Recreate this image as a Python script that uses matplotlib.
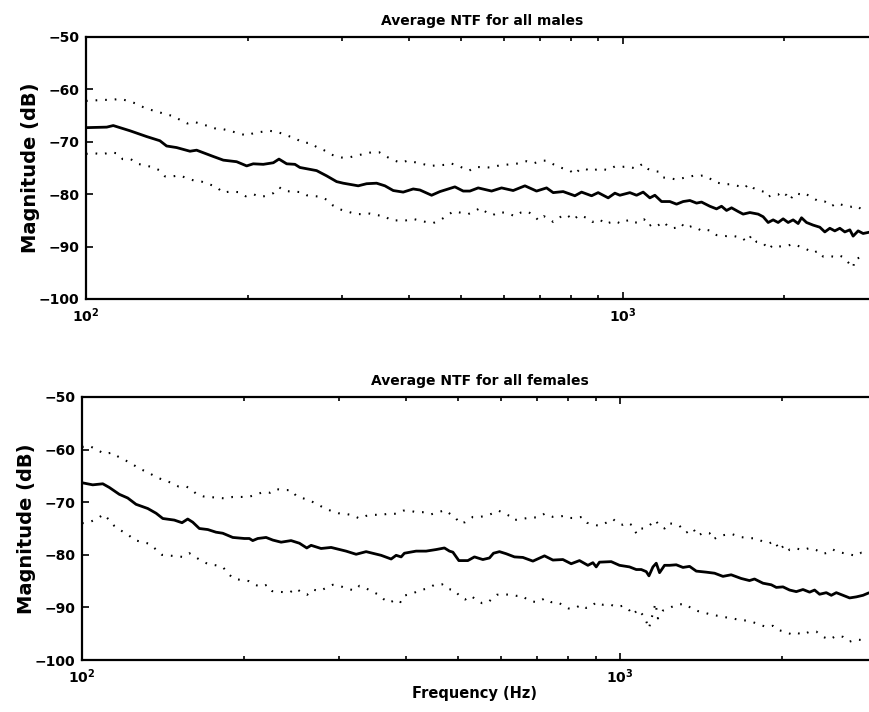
import matplotlib
matplotlib.use("Agg")
import matplotlib.pyplot as plt

# ---- males (top panel) ----
male_mean_f = [100, 109.3, 112.4, 120.8, 129.7, 137.3, 141.3, 147.5, 156.2, 160.7,
               172.6, 180.2, 190.8, 199.2, 204.9, 213.9, 223.3, 228.8, 236.5, 245.0,
               250.3, 268.9, 280.7, 293.0, 301.4, 321.4, 333.2, 347.8, 360.4, 373.5,
               389.8, 406.9, 418.8, 440.3, 456.3, 469.6, 486.6, 504.2, 518.9, 537.7,
               569.5, 594.4, 624.7, 657.0, 690.6, 721.0, 741.7, 774.1, 814.0, 837.7,
               874.4, 899.5, 939.0, 966.4, 987.3, 1030.5, 1060.6, 1091.0, 1122.8, 1147.1,
               1180.5, 1223.3, 1259.0, 1295.2, 1332.9, 1371.8, 1401.3, 1452.2, 1494.4, 1526.9,
               1560.0, 1593.9, 1639.6, 1675.1, 1724.1, 1786.6, 1825.2, 1864.9, 1905.2, 1946.4,
               1988.7, 2031.7, 2075.7, 2120.8, 2151.8, 2198.5, 2261.6, 2327.5, 2378.0, 2429.5,
               2482.1, 2536.0, 2590.9, 2647.2, 2684.8, 2743.1, 2802.5, 2863.1]
male_mean_db = [-67.3, -67.2, -66.9, -67.9, -69.0, -69.8, -70.8, -71.1, -71.8, -71.6,
                -72.8, -73.5, -73.8, -74.6, -74.2, -74.3, -74.0, -73.3, -74.2, -74.3,
                -74.9, -75.5, -76.5, -77.6, -77.9, -78.4, -78.0, -77.9, -78.4, -79.3,
                -79.6, -79.0, -79.2, -80.2, -79.5, -79.1, -78.6, -79.4, -79.4, -78.8,
                -79.4, -78.8, -79.3, -78.4, -79.4, -78.8, -79.7, -79.5, -80.3, -79.6,
                -80.3, -79.7, -80.7, -79.8, -80.2, -79.7, -80.2, -79.6, -80.7, -80.2,
                -81.4, -81.4, -81.9, -81.4, -81.2, -81.7, -81.5, -82.3, -82.8, -82.3,
                -83.1, -82.6, -83.3, -83.8, -83.5, -83.8, -84.3, -85.4, -84.9, -85.4,
                -84.7, -85.4, -84.9, -85.6, -84.5, -85.4, -85.9, -86.3, -87.2, -86.5,
                -87.0, -86.5, -87.2, -86.8, -88.0, -87.0, -87.5, -87.3]

male_upper_f = [100, 107.7, 111.7, 115.7, 119.9, 123.9, 127.9, 132.0, 136.3, 140.3,
                145.4, 149.6, 154.4, 159.1, 168.9, 174.6, 180.2, 186.8, 192.7, 199.2,
                205.8, 212.4, 219.5, 226.5, 233.0, 246.8, 253.9, 261.3, 268.9, 277.5,
                285.9, 293.0, 299.3, 308.4, 329.8, 340.4, 351.7, 362.4, 373.5, 386.0,
                397.2, 422.9, 437.1, 451.0, 466.1, 476.8, 492.2, 505.7, 517.3, 531.7,
                565.3, 583.3, 602.8, 643.0, 661.8, 682.8, 705.7, 721.0, 733.5, 754.5,
                796.7, 814.0, 831.6, 853.4, 870.7, 906.1, 936.5, 966.4, 994.6, 1018.7,
                1057.4, 1088.3, 1114.7, 1142.2, 1165.5, 1185.6, 1214.8, 1259.0, 1323.2, 1351.9,
                1381.2, 1411.1, 1447.8, 1483.7, 1515.8, 1548.7, 1582.2, 1651.6, 1687.3, 1711.4,
                1748.4, 1786.6, 1838.6, 1864.9, 1905.2, 1946.4, 1975.0, 2017.8, 2046.6, 2090.9,
                2136.3, 2166.7, 2223.3, 2310.6, 2378.0, 2447.3, 2500.3, 2572.1, 2666.5, 2724.5,
                2783.5, 2844.0]
male_upper_db = [-62.2, -62.0, -62.0, -61.8, -62.2, -62.7, -63.4, -63.9, -64.3, -64.7,
                 -65.1, -65.8, -66.5, -66.2, -67.0, -67.5, -67.6, -68.0, -68.4, -68.8,
                 -68.3, -68.1, -67.9, -68.1, -68.5, -69.5, -70.2, -70.2, -71.0, -71.6,
                 -72.4, -72.8, -73.0, -73.0, -72.3, -72.0, -72.0, -72.8, -73.5, -74.0,
                 -73.6, -74.2, -74.6, -74.5, -74.4, -74.1, -74.5, -75.1, -75.5, -74.8,
                 -74.9, -74.6, -74.4, -74.1, -73.7, -74.1, -73.6, -73.6, -74.0, -74.7,
                 -75.5, -76.2, -75.2, -75.2, -75.6, -75.1, -75.4, -74.7, -74.8, -74.7,
                 -75.1, -74.2, -75.2, -75.6, -75.7, -76.8, -76.9, -77.2, -76.7, -76.5,
                 -76.6, -76.4, -76.9, -77.7, -77.9, -78.1, -78.1, -78.5, -78.8, -78.1,
                 -78.8, -79.2, -79.6, -80.5, -80.0, -80.1, -79.5, -80.2, -81.1, -79.8,
                 -80.0, -79.7, -80.3, -81.3, -81.4, -82.3, -81.7, -82.1, -82.4, -82.2,
                 -82.9, -82.6]

male_lower_f = [100, 103.9, 107.4, 110.8, 114.4, 117.0, 121.1, 124.8, 128.8, 132.5,
                136.9, 140.3, 145.0, 149.6, 154.4, 159.1, 164.2, 175.1, 179.7, 185.4,
                192.1, 198.3, 204.9, 210.9, 217.6, 223.3, 229.1, 234.7, 251.1, 257.6,
                273.9, 282.6, 288.8, 297.2, 307.1, 317.8, 327.0, 338.0, 348.7, 360.4,
                369.8, 382.2, 394.4, 405.9, 429.7, 443.4, 457.7, 483.0, 497.1, 515.1,
                530.1, 543.3, 557.4, 572.0, 588.4, 608.9, 629.3, 645.8, 664.6, 682.8,
                696.6, 712.6, 729.1, 741.7, 755.8, 772.1, 787.5, 808.1, 828.0, 855.9,
                876.7, 906.1, 925.7, 966.4, 990.2, 1011.7, 1033.5, 1052.8, 1075.6, 1095.7,
                1118.0, 1138.8, 1160.5, 1192.3, 1209.3, 1232.3, 1259.0, 1286.3, 1310.2, 1342.6,
                1371.8, 1401.3, 1432.0, 1463.0, 1494.4, 1526.9, 1560.0, 1593.9, 1628.4, 1663.7,
                1699.7, 1736.6, 1774.2, 1825.2, 1864.9, 1905.2, 1946.4, 1988.7, 2031.7, 2075.7,
                2136.3, 2198.5, 2261.6, 2310.6, 2360.8, 2412.0, 2464.1, 2517.6, 2572.1, 2684.8,
                2704.7, 2763.3, 2844.0]
male_lower_db = [-72.3, -72.2, -72.4, -72.0, -72.2, -73.3, -73.3, -74.2, -74.5, -74.8,
                 -75.4, -76.6, -76.6, -76.4, -77.0, -77.4, -77.6, -78.6, -79.7, -79.5,
                 -79.6, -80.4, -80.0, -80.5, -80.3, -79.8, -78.7, -79.4, -79.6, -80.2,
                 -80.5, -81.2, -82.2, -82.9, -83.3, -83.8, -83.8, -83.7, -84.0, -84.2,
                 -85.0, -85.0, -85.0, -84.7, -85.3, -85.5, -84.9, -83.3, -83.5, -83.8,
                 -83.2, -82.6, -83.5, -84.0, -83.4, -83.6, -84.2, -83.5, -83.3, -84.1,
                 -85.0, -84.2, -84.7, -85.3, -84.8, -84.0, -84.0, -84.9, -84.0, -84.5,
                 -85.3, -84.8, -85.7, -85.1, -85.6, -85.1, -84.9, -85.4, -85.4, -84.8,
                 -86.1, -85.6, -86.0, -85.3, -86.0, -86.5, -86.4, -85.7, -86.5, -86.1,
                 -86.4, -87.0, -86.8, -87.0, -87.8, -87.9, -88.0, -87.9, -88.1, -88.2,
                 -89.1, -87.9, -89.1, -89.3, -90.5, -89.7, -90.0, -89.9, -89.8, -89.5,
                 -90.0, -90.5, -91.2, -90.8, -91.9, -91.8, -91.9, -91.6, -92.0, -94.0,
                 -92.4, -92.1, -92.4]

# ---- females (bottom panel) ----
female_mean_f = [100, 104.7, 109.3, 112.4, 117.3, 121.6, 126.0, 132.5, 137.3, 141.3,
                 148.4, 153.4, 157.2, 160.6, 165.2, 171.3, 177.4, 182.6, 190.6, 200.3,
                 204.6, 207.6, 212.1, 219.8, 226.2, 234.4, 244.6, 253.5, 261.6, 266.5,
                 278.1, 290.3, 309.5, 323.1, 337.2, 359.6, 375.3, 383.4, 391.7, 397.2,
                 417.6, 435.9, 455.0, 471.4, 481.7, 488.8, 501.4, 521.1, 536.0, 555.6,
                 571.6, 581.5, 596.6, 614.0, 636.1, 659.4, 688.3, 723.3, 749.8, 782.5,
                 810.8, 840.1, 870.9, 889.8, 902.4, 915.2, 962.2, 997.0, 1040.6, 1071.0,
                 1094.1, 1117.8, 1130.8, 1150.4, 1166.7, 1183.3, 1208.9, 1235.0, 1271.0, 1308.0,
                 1345.5, 1384.6, 1445.1, 1497.3, 1552.0, 1607.6, 1678.0, 1738.6, 1776.2, 1841.9,
                 1908.6, 1949.9, 2006.6, 2064.0, 2124.0, 2185.8, 2248.4, 2297.0, 2346.7, 2415.0,
                 2467.2, 2520.6, 2594.0, 2668.5, 2745.9, 2825.8, 2887.0]
female_mean_db = [-66.3, -66.7, -66.5, -67.2, -68.5, -69.2, -70.4, -71.2, -72.1, -73.1,
                  -73.4, -73.9, -73.2, -73.8, -75.0, -75.2, -75.7, -75.9, -76.7, -76.9,
                  -76.9, -77.3, -76.9, -76.7, -77.2, -77.6, -77.3, -77.8, -78.7, -78.2,
                  -78.8, -78.6, -79.3, -79.9, -79.4, -80.1, -80.8, -80.1, -80.4, -79.7,
                  -79.3, -79.3, -79.0, -78.7, -79.3, -79.5, -81.1, -81.1, -80.4, -80.9,
                  -80.6, -79.7, -79.4, -79.8, -80.4, -80.5, -81.2, -80.2, -81.0, -80.9,
                  -81.7, -81.1, -82.0, -81.5, -82.3, -81.4, -81.3, -82.0, -82.3, -82.8,
                  -82.8, -83.2, -84.0, -82.3, -81.6, -83.4, -82.0, -82.0, -81.9, -82.4,
                  -82.2, -83.1, -83.3, -83.5, -84.1, -83.8, -84.5, -84.9, -84.6, -85.4,
                  -85.7, -86.2, -86.1, -86.7, -87.0, -86.6, -87.1, -86.7, -87.5, -87.2,
                  -87.7, -87.2, -87.7, -88.2, -88.0, -87.7, -87.3]

female_upper_f = [100, 103.2, 106.5, 110.0, 113.6, 117.0, 120.7, 124.6, 128.3, 132.5,
                  137.7, 146.4, 151.0, 156.1, 159.4, 163.4, 168.1, 185.2, 190.6, 197.5,
                  203.8, 209.9, 216.7, 223.6, 229.4, 236.7, 244.6, 250.6, 258.3, 266.5,
                  274.9, 282.9, 291.2, 299.5, 308.6, 318.5, 327.7, 337.2, 347.9, 359.6,
                  370.9, 383.4, 395.5, 405.8, 417.6, 431.7, 445.4, 459.5, 472.9, 485.2,
                  494.2, 502.7, 515.1, 532.4, 547.6, 563.6, 580.0, 594.1, 607.9, 622.7,
                  633.5, 645.4, 663.9, 683.2, 703.1, 723.3, 733.9, 749.8, 766.0, 784.6,
                  805.0, 826.0, 848.8, 867.2, 912.9, 941.8, 969.2, 990.1, 1011.5, 1033.4,
                  1052.6, 1071.0, 1083.3, 1109.7, 1133.7, 1161.7, 1183.3, 1208.9, 1226.5, 1253.0,
                  1288.9, 1326.4, 1365.0, 1394.5, 1424.7, 1465.5, 1486.9, 1529.6, 1607.6, 1666.3,
                  1727.2, 1789.8, 1841.9, 1894.6, 1935.6, 1977.5, 2020.3, 2064.0, 2124.0, 2185.8,
                  2248.4, 2313.7, 2381.0, 2432.5, 2485.1, 2538.9, 2611.8, 2687.6, 2745.9, 2805.2,
                  2865.9]
female_upper_db = [-59.5, -59.3, -60.0, -60.8, -60.6, -61.4, -62.1, -62.9, -63.7, -64.3,
                   -65.3, -66.3, -67.0, -67.0, -67.5, -68.5, -68.9, -69.3, -69.0, -69.0,
                   -69.0, -68.6, -68.1, -68.2, -67.5, -67.7, -67.7, -68.9, -69.3, -69.8,
                   -70.5, -71.2, -71.7, -72.1, -72.2, -72.5, -73.1, -72.6, -72.4, -72.4,
                   -72.2, -72.2, -71.6, -71.6, -71.9, -71.9, -72.3, -71.9, -71.5, -72.4,
                   -72.9, -74.0, -73.8, -72.8, -72.8, -72.6, -72.1, -71.6, -72.1, -72.6,
                   -73.4, -73.3, -73.1, -72.9, -72.9, -72.2, -72.3, -72.8, -72.8, -72.6,
                   -73.0, -73.0, -72.8, -73.9, -74.5, -73.9, -73.2, -74.0, -74.3, -73.9,
                   -74.4, -75.9, -75.0, -75.0, -74.4, -73.4, -74.5, -75.0, -74.0, -74.1,
                   -74.5, -75.8, -75.0, -76.4, -75.8, -75.9, -77.1, -76.4, -76.0, -76.6,
                   -76.8, -76.9, -77.5, -77.8, -77.4, -79.1, -78.1, -79.1, -78.8, -79.1,
                   -78.7, -79.1, -79.8, -79.6, -79.0, -79.5, -79.7, -80.0, -80.2, -79.6,
                   -79.7]

female_lower_f = [100, 103.2, 106.5, 109.7, 112.4, 114.8, 118.2, 121.9, 125.1, 133.4,
                  137.3, 140.7, 153.9, 158.3, 162.4, 166.9, 172.0, 177.4, 182.6, 187.0,
                  191.1, 197.5, 204.1, 209.7, 215.1, 220.7, 225.5, 231.1, 236.7, 242.8,
                  249.9, 256.1, 262.0, 268.4, 276.1, 284.1, 292.4, 300.8, 310.5, 320.7,
                  327.7, 336.2, 344.5, 354.5, 363.1, 372.6, 383.4, 390.5, 395.5, 405.8,
                  414.6, 425.4, 439.1, 451.7, 466.8, 478.4, 492.0, 502.7, 515.1, 528.5,
                  541.6, 554.0, 567.7, 578.3, 590.0, 605.3, 624.5, 640.8, 657.4, 673.7,
                  688.3, 703.1, 723.3, 744.3, 766.0, 784.6, 801.5, 822.4, 846.2, 864.5,
                  883.2, 902.4, 928.6, 955.3, 983.1, 1011.5, 1033.4, 1055.8, 1078.7, 1109.7,
                  1130.8, 1141.9, 1163.1, 1175.1, 1200.5, 1235.0, 1271.0, 1298.4, 1326.4, 1355.2,
                  1394.5, 1434.5, 1476.2, 1519.0, 1574.0, 1619.7, 1666.3, 1714.8, 1764.6, 1815.2,
                  1868.1, 1922.3, 1963.9, 2020.3, 2079.1, 2124.0, 2185.8, 2248.4, 2313.7, 2381.0,
                  2449.3, 2520.6, 2594.0, 2668.5, 2745.9, 2805.2, 2865.9]
female_lower_db = [-74.0, -73.8, -73.2, -72.3, -73.4, -74.5, -75.4, -76.2, -77.2, -77.9,
                   -79.0, -80.0, -80.4, -79.7, -80.4, -81.2, -81.8, -82.0, -82.3, -83.6,
                   -84.5, -84.8, -85.0, -85.7, -86.1, -85.7, -86.9, -87.0, -87.1, -87.2,
                   -86.4, -87.2, -87.6, -86.6, -86.9, -86.3, -85.7, -85.9, -86.4, -86.8,
                   -85.9, -86.3, -86.9, -87.5, -88.4, -89.1, -88.5, -89.0, -87.8, -87.5,
                   -87.2, -86.7, -86.4, -85.7, -85.6, -86.5, -86.7, -87.8, -88.5, -87.8,
                   -88.7, -89.2, -89.1, -88.3, -87.6, -87.5, -87.6, -87.8, -87.8, -88.6,
                   -88.9, -89.0, -88.3, -89.0, -89.0, -89.7, -90.2, -90.2, -89.5, -90.1,
                   -89.9, -89.0, -89.5, -89.4, -89.9, -89.7, -90.2, -91.4, -90.4, -91.8,
                   -94.0, -92.3, -89.2, -92.1, -90.6, -90.1, -89.5, -89.4, -89.4, -90.2,
                   -90.7, -91.0, -91.4, -91.6, -91.9, -92.1, -92.4, -92.5, -92.8, -93.3,
                   -93.7, -93.5, -94.3, -94.6, -95.1, -94.8, -95.2, -94.6, -94.6, -95.6,
                   -96.1, -95.4, -95.6, -96.5, -96.1, -96.2, -95.6]

y_ticks = [-100, -90, -80, -70, -60, -50]

plt.rcParams['font.family'] = 'DejaVu Sans'
plt.rcParams['font.weight'] = 'bold'
plt.rcParams['mathtext.default'] = 'bf'

fig = plt.figure(figsize=(8.69, 7.12), dpi=100)
# axes run past the right edge of the figure, as in the cropped original
ax1 = fig.add_axes([86 / 869, 1 - 299 / 712, 793 / 869, 262 / 712])
ax2 = fig.add_axes([82 / 869, 1 - 660 / 712, 795 / 869, 263 / 712])

dots = (0, (0.8, 3.8))

panels = [
    (ax1, male_mean_f, male_mean_db, male_upper_f, male_upper_db,
     male_lower_f, male_lower_db, 'Average NTF for all males'),
    (ax2, female_mean_f, female_mean_db, female_upper_f, female_upper_db,
     female_lower_f, female_lower_db, 'Average NTF for all females'),
]

for ax, mf, mdb, uf, udb, lf, ldb, title in panels:
    ax.plot(mf, mdb, color='black', lw=2.0)
    ax.plot(uf, udb, color='black', lw=1.5, linestyle=dots)
    ax.plot(lf, ldb, color='black', lw=1.5, linestyle=dots)

    ax.set_xscale('log')
    ax.set_xlim(100, 3000)
    ax.set_ylim(-100, -50)
    ax.set_yticks(y_ticks)
    ax.set_title(title, fontsize=10, fontweight='bold', pad=9)
    ax.set_ylabel('Magnitude (dB)', fontsize=14, fontweight='bold')
    ax.yaxis.set_label_coords(-0.058, 0.5)

    ax.tick_params(which='both', direction='in', top=True, right=True,
                   width=1.2, labelsize=10, pad=5)
    ax.tick_params(which='major', length=5)
    ax.tick_params(which='minor', length=3)
    for s in ax.spines.values():
        s.set_linewidth(1.6)

ax2.set_xlabel('Frequency (Hz)', fontsize=10.5, fontweight='bold')
ax2.xaxis.set_label_coords(0.494, -0.1)

fig.savefig('out.png', dpi=100)
